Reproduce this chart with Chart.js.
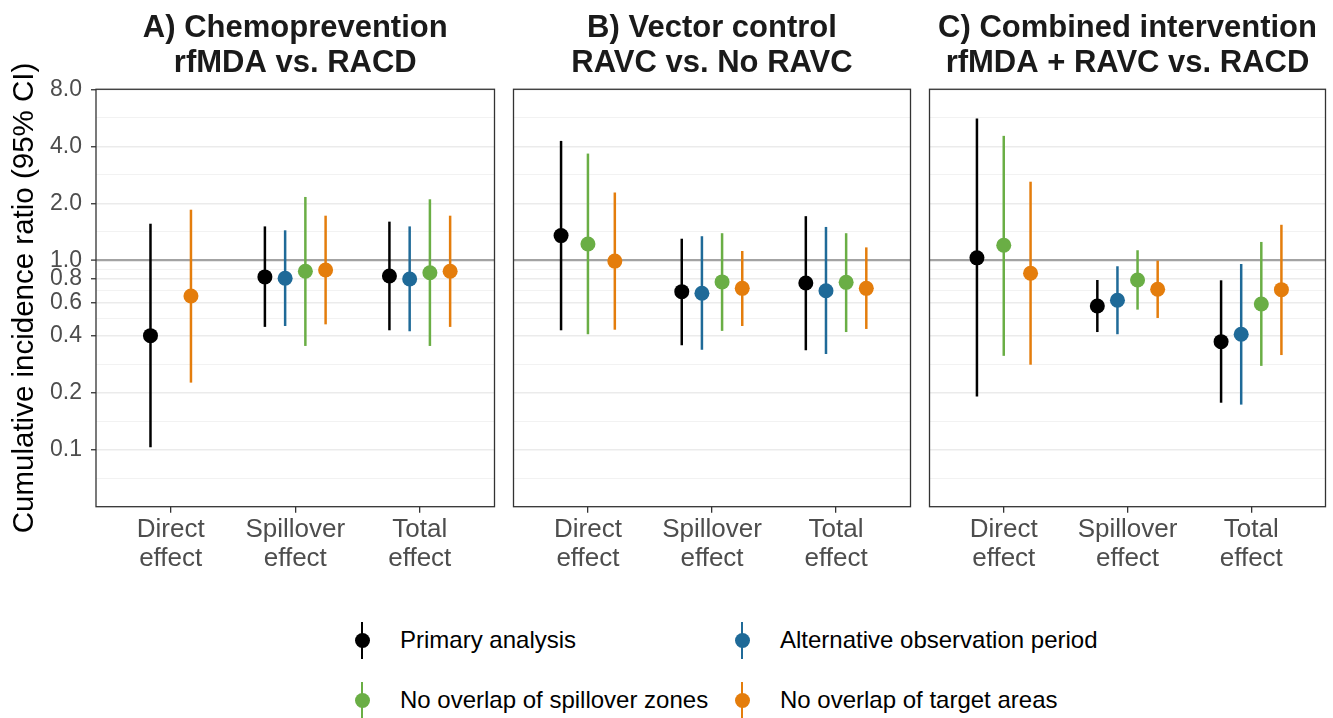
<!DOCTYPE html>
<html>
<head>
<meta charset="utf-8">
<script src="https://cdn.jsdelivr.net/npm/chart.js@4.4.1/dist/chart.umd.min.js"></script>
<style>
  body { margin: 0; background: #fff; font-family: "Liberation Sans", Arial, sans-serif; }
  #wrap { position: relative; width: 1333px; height: 718px; overflow: hidden; }
  canvas { position: absolute; top: 0; }
  .leg { position: absolute; height: 40px; }
  .leg .bar { position: absolute; left: -1.25px; top: 0; width: 2.5px; height: 37px; }
  .leg .dot { position: absolute; left: -7.5px; top: 11px; width: 15px; height: 15px; border-radius: 50%; }
  .leg span { position: absolute; top: 4px; white-space: nowrap; font-size: 24px; color: #000; }
</style>
</head>
<body>
<div id="wrap">
  <canvas id="panelA" width="502" height="590" style="left:0px"></canvas>
  <canvas id="panelB" width="412" height="590" style="left:506px"></canvas>
  <canvas id="panelC" width="411" height="590" style="left:922px"></canvas>
  <div id="legend"></div>
</div>
<script>
// categories on the x axis
var categories = [["Direct", "effect"], ["Spillover", "effect"], ["Total", "effect"]];
var seriesNames = [
    "Primary analysis",
    "Alternative observation period",
    "No overlap of spillover zones",
    "No overlap of target areas"
];
var seriesColors = ["#000000", "#1f6a98", "#6aae45", "#e47d0c"];

var panelTitles = [
    ["A) Chemoprevention", "rfMDA vs. RACD"],
    ["B) Vector control", "RAVC vs. No RAVC"],
    ["C) Combined intervention", "rfMDA + RAVC vs. RACD"]
];

// y axis breaks
var yMajorTicks = [0.1, 0.2, 0.4, 0.6, 0.8, 1.0, 2.0, 4.0, 8.0];

// estimates and 95% CI, one row per series, one column per category
var chemoEst  = [[0.40, 0.817, 0.826], [null, 0.804, 0.797], [null, 0.875, 0.86], [0.648, 0.889, 0.875]];
var chemoLow  = [[0.103, 0.445, 0.427], [null, 0.45, 0.422], [null, 0.353, 0.353], [0.226, 0.459, 0.445]];
var chemoHigh = [[1.56, 1.51, 1.60], [null, 1.44, 1.51], [null, 2.16, 2.10], [1.85, 1.72, 1.72]];

var vectorEst  = [[1.35, 0.683, 0.759], [null, 0.67, 0.691], [1.22, 0.769, 0.765], [0.99, 0.711, 0.711]];
var vectorLow  = [[0.427, 0.356, 0.335], [null, 0.337, 0.32], [0.407, 0.424, 0.418], [0.43, 0.45, 0.434]];
var vectorHigh = [[4.27, 1.30, 1.71], [null, 1.34, 1.50], [3.66, 1.39, 1.39], [2.28, 1.12, 1.17]];

var combinedEst  = [[1.03, 0.574, 0.372], [null, 0.615, 0.407], [1.20, 0.787, 0.588], [0.854, 0.703, 0.70]];
var combinedLow  = [[0.191, 0.418, 0.177], [null, 0.407, 0.173], [0.313, 0.549, 0.277], [0.281, 0.496, 0.316]];
var combinedHigh = [[5.6, 0.787, 0.784], [null, 0.93, 0.956], [4.54, 1.13, 1.25], [2.60, 0.996, 1.54]];

var dodgeWidth = 0.65;

// minor grid lines sit halfway (on the log scale) between breaks
var yMinorTicks = [];
var breaksWithEnds = [0.05].concat(yMajorTicks);
for (var i = 1; i < breaksWithEnds.length; i++) {
    yMinorTicks.push(Math.sqrt(breaksWithEnds[i - 1] * breaksWithEnds[i]));
}
function isMajor(v) {
    return yMajorTicks.some(function (m) { return Math.abs(m - v) < 1e-9; });
}

function buildDatasets(est, low, high) {
    var datasets = seriesNames.map(function (name, s) {
        return {
            label: name,
            data: [],
            backgroundColor: seriesColors[s],
            borderWidth: 0,
            pointRadius: 7.5,
            pointHoverRadius: 7.5
        };
    });
    categories.forEach(function (cat, c) {
        var present = [];
        for (var s = 0; s < seriesNames.length; s++) {
            if (est[s][c] !== null) present.push(s);
        }
        var n = present.length;
        present.forEach(function (s, k) {
            var offset = (k - (n - 1) / 2) * dodgeWidth / n;
            datasets[s].data.push({ x: c + 1 + offset, y: est[s][c], lo: low[s][c], hi: high[s][c] });
        });
    });
    return datasets;
}

var errorBars = {
    id: "errorBars",
    beforeDatasetsDraw: function (chart) {
        var ctx = chart.ctx;
        var xs = chart.scales.x, ys = chart.scales.y;
        ctx.save();
        chart.data.datasets.forEach(function (ds) {
            ctx.strokeStyle = ds.backgroundColor;
            ctx.lineWidth = 2.5;
            ds.data.forEach(function (p) {
                var px = xs.getPixelForValue(p.x);
                ctx.beginPath();
                ctx.moveTo(px, ys.getPixelForValue(p.lo));
                ctx.lineTo(px, ys.getPixelForValue(p.hi));
                ctx.stroke();
            });
        });
        ctx.restore();
    }
};

var panelBorder = {
    id: "panelBorder",
    afterDraw: function (chart) {
        var a = chart.chartArea;
        var ctx = chart.ctx;
        ctx.save();
        ctx.strokeStyle = "#333333";
        ctx.lineWidth = 1.3;
        ctx.strokeRect(a.left, a.top, a.right - a.left, a.bottom - a.top);
        ctx.restore();
    }
};

function makePanel(canvasId, title, est, low, high, showY, padLeft, padRight) {
    var ctx = document.getElementById(canvasId).getContext("2d");
    return new Chart(ctx, {
        type: "scatter",
        data: { datasets: buildDatasets(est, low, high) },
        plugins: [errorBars, panelBorder],
        options: {
            responsive: false,
            animation: false,
            devicePixelRatio: 1,
            layout: { padding: { left: padLeft, right: padRight, top: 0, bottom: 0 } },
            plugins: {
                legend: { display: false },
                tooltip: { enabled: false },
                title: {
                    display: true,
                    text: title,
                    fullSize: false,
                    color: "#1a1a1a",
                    font: { family: "Liberation Sans", size: 31, weight: "bold", lineHeight: 1.13 },
                    padding: { top: 11, bottom: 8.2 }
                }
            },
            scales: {
                x: {
                    type: "linear",
                    min: 0.4,
                    max: 3.6,
                    afterBuildTicks: function (scale) {
                        scale.ticks = [{ value: 1 }, { value: 2 }, { value: 3 }];
                    },
                    afterFit: function (scale) { scale.height = 590 - 506.7; },
                    ticks: {
                        autoSkip: false,
                        maxRotation: 0,
                        padding: 3,
                        color: "#4d4d4d",
                        font: { family: "Liberation Sans", size: 26, lineHeight: 1.1 },
                        callback: function (v) { return categories[Math.round(v) - 1]; }
                    },
                    grid: {
                        drawOnChartArea: false,
                        drawTicks: true,
                        tickLength: 6,
                        color: "#333333",
                        lineWidth: 1.3
                    },
                    border: { display: false }
                },
                y: {
                    type: "logarithmic",
                    min: 0.05,
                    max: 8,
                    afterBuildTicks: function (scale) {
                        var all = yMinorTicks.concat(yMajorTicks).sort(function (a, b) { return a - b; });
                        scale.ticks = all.map(function (v) { return { value: v }; });
                    },
                    afterFit: function (scale) { scale.width = showY ? 96 : 0; },
                    title: {
                        display: showY,
                        text: "Cumulative incidence ratio (95% CI)",
                        color: "#000000",
                        font: { family: "Liberation Sans", size: 29.5 },
                        padding: { top: 7, bottom: 0 }
                    },
                    ticks: {
                        display: showY,
                        autoSkip: false,
                        padding: 9,
                        color: "#4d4d4d",
                        font: { family: "Liberation Sans", size: 23 },
                        callback: function (v) { return isMajor(v) ? v.toFixed(1) : ""; }
                    },
                    grid: {
                        drawTicks: showY,
                        tickLength: 5,
                        tickWidth: 1.3,
                        tickColor: function (c) { return isMajor(c.tick.value) ? "#333333" : "rgba(0,0,0,0)"; },
                        color: function (c) {
                            if (Math.abs(c.tick.value - 1) < 1e-9) return "#a3a3a3";
                            return isMajor(c.tick.value) ? "#ebebeb" : "#f0f0f0";
                        },
                        lineWidth: function (c) {
                            if (Math.abs(c.tick.value - 1) < 1e-9) return 2.2;
                            return isMajor(c.tick.value) ? 1.5 : 0.9;
                        }
                    },
                    border: { display: false }
                }
            }
        }
    });
}

makePanel("panelA", panelTitles[0], chemoEst, chemoLow, chemoHigh, true, 0, 5);
makePanel("panelB", panelTitles[1], vectorEst, vectorLow, vectorHigh, false, 6, 6);
makePanel("panelC", panelTitles[2], combinedEst, combinedLow, combinedHigh, false, 5, 4);

// legend, two columns by two rows
var legendSpots = [
    { x: 362, y: 622 },
    { x: 742, y: 622 },
    { x: 362, y: 682 },
    { x: 742, y: 682 }
];
var legendBox = document.getElementById("legend");
seriesNames.forEach(function (name, s) {
    var item = document.createElement("div");
    item.className = "leg";
    item.style.left = legendSpots[s].x + "px";
    item.style.top = legendSpots[s].y + "px";
    item.innerHTML = '<div class="bar" style="background:' + seriesColors[s] + '"></div>' +
        '<div class="dot" style="background:' + seriesColors[s] + '"></div>' +
        '<span style="left:38px">' + name + '</span>';
    legendBox.appendChild(item);
});
</script>
</body>
</html>
